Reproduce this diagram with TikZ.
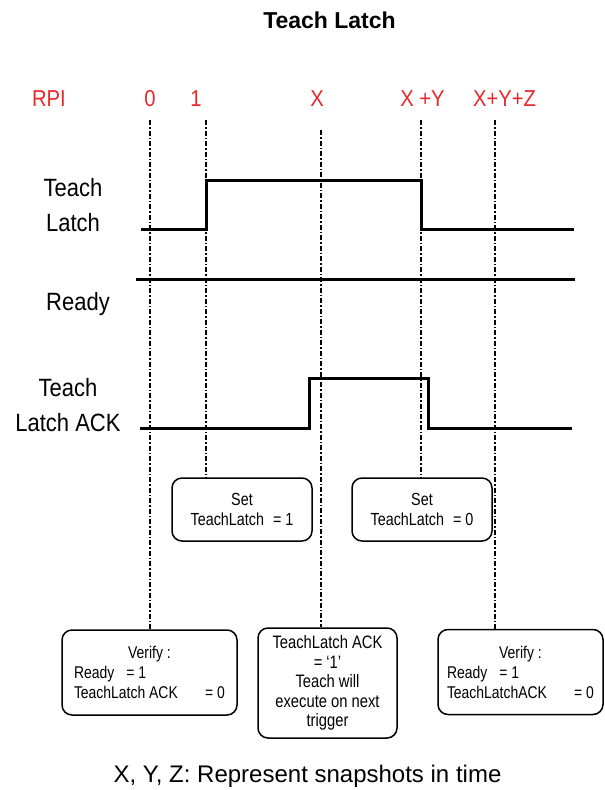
\documentclass[tikz,border=0pt]{standalone}
\usepackage{fontspec}
\setmainfont{Liberation Sans}
\newfontfamily\boxfont[FakeStretch=0.82]{Liberation Sans}
\newfontfamily\labelfont[FakeStretch=0.88]{Liberation Sans}
\usepackage{xcolor}
\usepackage{tikz}
\usetikzlibrary{calc}
\definecolor{rpired}{HTML}{E8282B}

\tikzset{
  sigline/.style={line width=3pt,line join=miter},
  snapline/.style={line width=1.3pt,dash pattern=on 5pt off 2pt on 1.5pt off 2pt},
  ticklabel/.style={text=rpired,font=\labelfont\fontsize{23}{26}\selectfont,anchor=base,inner sep=0pt},
  siglabel/.style={font=\labelfont\fontsize{25}{35}\selectfont,align=center,inner sep=0pt},
  setbox/.style={draw,rounded corners=10pt,line width=1.5pt,minimum width=140pt,minimum height=63pt,
    align=center,font=\boxfont\fontsize{17.5}{20}\selectfont},
  verifybox/.style={draw,rounded corners=10pt,line width=1.5pt,minimum width=175pt,minimum height=85pt,
    align=left,font=\boxfont\fontsize{17}{20}\selectfont},
  ackbox/.style={draw,rounded corners=10pt,line width=1.5pt,minimum width=139pt,minimum height=110pt,
    align=center,font=\boxfont\fontsize{18}{19.5}\selectfont,inner sep=1pt}
}

\begin{document}
\begin{tikzpicture}[x=1pt,y=-1pt]
  \useasboundingbox (0,0) rectangle (605,790);
  % title and RPI time stamps
  \node[font=\fontsize{23}{26}\selectfont\bfseries,anchor=base] (title) at (329.5,28) {Teach Latch};
  \node[ticklabel] (rpi) at (49,106) {RPI};
  \node[ticklabel] (t0) at (150,106) {0};
  \node[ticklabel] (t1) at (196,106) {1};
  \node[ticklabel] (tx) at (317,106) {X};
  \node[ticklabel] (txy) at (422.5,106) {X +Y};
  \node[ticklabel] (txyz) at (504.5,106) {X+Y+Z};

  % signal names
  \node[siglabel] (latch) at (73,205.5) {Teach\\Latch};
  \node[siglabel,anchor=base] (ready) at (78,310) {Ready};
  \node[siglabel] (ack) at (68,405.5) {Teach\\Latch ACK};

  % boxes
  \node[setbox] (set1) at (242,509.5) {Set\\TeachLatch\hspace{9pt}= 1};
  \node[setbox] (set0) at (422,509.5) {Set\\TeachLatch\hspace{9pt}= 0};
  \node[verifybox] (ver1) at (149.5,672.5) {\makebox[151pt]{Verify :}\\
    \makebox[151pt][l]{Ready\hspace{12pt}= 1}\\
    \makebox[151pt][l]{TeachLatch ACK\hfill= 0}};
  \node[ackbox] (ackmsg) at (327.5,683) {TeachLatch ACK\\= ‘1’\\Teach will\\execute on next\\trigger};
  \node[verifybox,minimum width=165pt] (ver2) at (520.5,672) {\makebox[147pt]{Verify :}\\
    \makebox[147pt][l]{Ready\hspace{12pt}= 1}\\
    \makebox[147pt][l]{TeachLatchACK\hfill= 0}};

  % snapshot markers
  \coordinate (m0) at (150,120);
  \coordinate (m1) at (206,120);
  \coordinate (mx) at (321,130);
  \coordinate (mxy) at (421,120);
  \coordinate (mxyz) at (495,120);
  \foreach \m/\b in {m0/ver1,m1/set1,mx/ackmsg,mxy/set0,mxyz/ver2}{
    \draw[snapline] (\m) -- (\m |- \b.north);
  }

  % waveforms
  \draw[sigline] (141,229) -- (206,229) -- (206,180) -- (421,180) -- (421,229) -- (574,229);
  \draw[sigline] (136,279) -- (575,279);
  \draw[sigline] (140,428) -- (309,428) -- (309,378) -- (428,378) -- (428,428) -- (572,428);

  \node[font=\fontsize{24}{28}\selectfont,anchor=base] (note) at (307.5,782) {X, Y, Z: Represent snapshots in time};
\end{tikzpicture}
\end{document}
